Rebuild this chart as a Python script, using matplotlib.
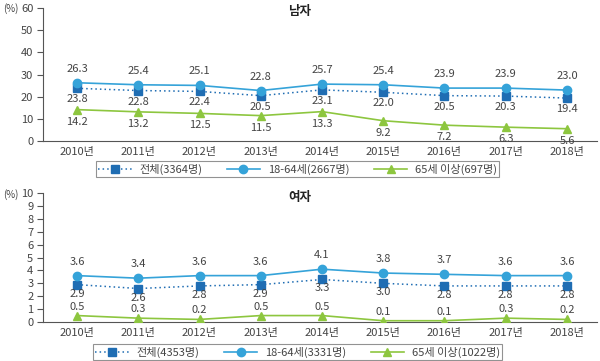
import matplotlib
matplotlib.use("Agg")
import matplotlib.pyplot as plt
from matplotlib.lines import Line2D

plt.rcParams['font.family'] = ['Noto Sans CJK KR', 'DejaVu Sans']

years = ['2010년', '2011년', '2012년', '2013년', '2014년', '2015년', '2016년', '2017년', '2018년']

male_total = [23.8, 22.8, 22.4, 20.5, 23.1, 22.0, 20.5, 20.3, 19.4]
male_1864 = [26.3, 25.4, 25.1, 22.8, 25.7, 25.4, 23.9, 23.9, 23.0]
male_65 = [14.2, 13.2, 12.5, 11.5, 13.3, 9.2, 7.2, 6.3, 5.6]

female_total = [2.9, 2.6, 2.8, 2.9, 3.3, 3.0, 2.8, 2.8, 2.8]
female_1864 = [3.6, 3.4, 3.6, 3.6, 4.1, 3.8, 3.7, 3.6, 3.6]
female_65 = [0.5, 0.3, 0.2, 0.5, 0.5, 0.1, 0.1, 0.3, 0.2]

male_labels = ['전체(3364명)', '18-64세(2667명)', '65세 이상(697명)']
female_labels = ['전체(4353명)', '18-64세(3331명)', '65세 이상(1022명)']

C_TOTAL = '#1f6db3'
C_1864 = '#35a3d9'
C_65 = '#8dc63f'
TXT = '#444444'
FS = 8

fig = plt.figure(figsize=(6.0, 3.61), dpi=100)

def panel(rect, total, r1864, r65, ymax, step, title, labels, leg_y, pct_y, ofs_tot, ofs65):
    ax = fig.add_axes(rect)
    x = list(range(len(years)))
    ax.plot(x, total, color=C_TOTAL, linestyle=(0, (1, 2)), lw=1.1, marker='s', ms=5.5, zorder=3)
    ax.plot(x, r1864, color=C_1864, lw=1.2, marker='o', ms=6, zorder=3)
    ax.plot(x, r65, color=C_65, lw=1.2, marker='^', ms=6, zorder=3)
    for i in x:
        ax.annotate(f'{r1864[i]:.1f}', (i, r1864[i]), xytext=(0, 9), textcoords='offset pixels',
                    ha='center', va='bottom', fontsize=FS, color=TXT)
        ax.annotate(f'{total[i]:.1f}', (i, total[i]), xytext=(0, ofs_tot), textcoords='offset pixels',
                    ha='center', va='top', fontsize=FS, color=TXT)
        ax.annotate(f'{r65[i]:.1f}', (i, r65[i]), xytext=(0, ofs65), textcoords='offset pixels',
                    ha='center', va='top' if ofs65 < 0 else 'bottom', fontsize=FS, color=TXT)
    ax.set_xlim(-0.555, 8.49)
    ax.set_ylim(0, ymax)
    ax.set_yticks(list(range(0, ymax + 1, step)))
    ax.set_xticks(x)
    ax.set_xticklabels(years, fontsize=FS, color=TXT)
    ax.tick_params(axis='x', length=0, pad=4)
    ax.tick_params(axis='y', length=4, width=0.8, color='#555555', labelsize=FS, labelcolor=TXT, pad=3)
    for s in ['top', 'right']:
        ax.spines[s].set_visible(False)
    for s in ['left', 'bottom']:
        ax.spines[s].set_color('#555555')
        ax.spines[s].set_linewidth(0.8)
    ax.text(0.463, 1.02, title, transform=ax.transAxes, ha='center', va='top', fontsize=9,
            fontweight='bold', color='#222222')
    fig.text(0.005, pct_y, '(%)', fontsize=7, color=TXT, va='center', ha='left')
    handles = [
        Line2D([], [], color=C_TOTAL, linestyle=(0, (1, 2)), lw=1.1, marker='s', ms=5.5),
        Line2D([], [], color=C_1864, lw=1.2, marker='o', ms=6),
        Line2D([], [], color=C_65, lw=1.2, marker='^', ms=6),
    ]
    leg = fig.legend(handles, labels, ncol=3, loc='center', bbox_to_anchor=(0.496, leg_y),
                     frameon=True, fancybox=False, fontsize=FS, handlelength=3.0,
                     columnspacing=2.2, handletextpad=0.7, borderpad=0.2, borderaxespad=0,
                     labelcolor=TXT)
    leg.get_frame().set_edgecolor('#777777')
    leg.get_frame().set_linewidth(0.8)
    return ax

panel([0.0717, 0.609, 0.9233, 0.369], male_total, male_1864, male_65, 60, 10, '남자',
      male_labels, 0.532, 0.975, -6, -7)
panel([0.0717, 0.108, 0.9233, 0.357], female_total, female_1864, female_65, 10, 1, '여자',
      female_labels, 0.025, 0.46, -4, 4)

fig.savefig('out.png', dpi=100, facecolor='white')
